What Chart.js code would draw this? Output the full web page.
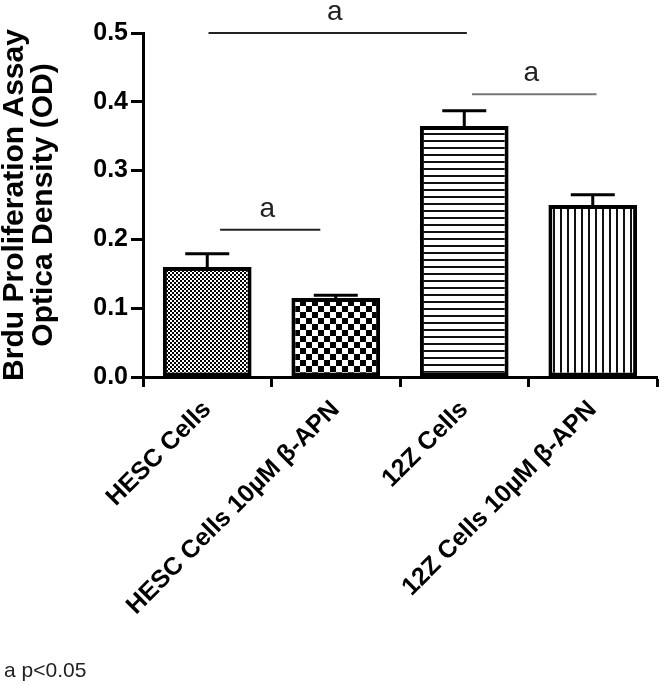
<!DOCTYPE html>
<html lang="en">
<head>
  <meta charset="UTF-8" />
  <title>Brdu Proliferation Assay</title>
  <script src="https://cdn.jsdelivr.net/npm/chart.js"></script>
  <style>
    html, body { margin: 0; padding: 0; background: #fff; }
    #wrap { position: relative; width: 660px; height: 685px; }
    #note {
      position: absolute; left: 4px; top: 658px;
      font: 21px "Liberation Sans", Arial, sans-serif; color: #222;
    }
  </style>
</head>
<body>
  <div id="wrap">
    <canvas id="brduChart" width="660" height="685"></canvas>
    <div id="note">a p&lt;0.05</div>
  </div>

  <script>
    // data
    const categories = ['HESC Cells', 'HESC Cells 10\u00b5M \u03b2-APN', '12Z Cells', '12Z Cells 10\u00b5M \u03b2-APN'];
    const meanOD = [0.160, 0.115, 0.365, 0.250];
    const errOD = [0.019, 0.004, 0.022, 0.015];
    const yTicks = [0, 0.1, 0.2, 0.3, 0.4, 0.5];
    // significance brackets: from / to category position, level, label
    const sigFrom = [0.01, 0.10, 2.06];
    const sigTo = [2.02, 0.88, 3.03];
    const sigLevel = [0.5, 0.214, 0.411];
    const sigLabel = ['a', 'a', 'a'];
    const sigColor = ['#222', '#222', '#777'];

    const FONT = '"Liberation Sans", Arial, sans-serif';

    function makePattern(kind) {
      const c = document.createElement('canvas');
      const g = c.getContext('2d');
      if (kind === 'fine') {
        c.width = c.height = 4;
        g.fillStyle = '#fff'; g.fillRect(0, 0, 4, 4);
        g.fillStyle = '#000';
        g.fillRect(0, 0, 2, 2); g.fillRect(2, 2, 2, 2);
      } else if (kind === 'checker') {
        c.width = c.height = 12;
        g.fillStyle = '#fff'; g.fillRect(0, 0, 12, 12);
        g.fillStyle = '#000';
        g.fillRect(0, 0, 6, 6); g.fillRect(6, 6, 6, 6);
      } else if (kind === 'hlines') {
        c.width = c.height = 7;
        g.fillStyle = '#fff'; g.fillRect(0, 0, 7, 7);
        g.fillStyle = '#111'; g.fillRect(0, 0, 7, 2);
      } else {
        c.width = c.height = 7;
        g.fillStyle = '#fff'; g.fillRect(0, 0, 7, 7);
        g.fillStyle = '#111'; g.fillRect(0, 0, 2, 7);
      }
      return g.createPattern(c, 'repeat');
    }

    const extras = {
      id: 'extras',
      afterDatasetsDraw(chart) {
        const ctx = chart.ctx;
        const x = chart.scales.x, y = chart.scales.y;
        const meta = chart.getDatasetMeta(0);
        ctx.save();
        // error bars, upper half only
        ctx.strokeStyle = '#000';
        ctx.lineWidth = 3;
        meta.data.forEach((bar, i) => {
          const cx = bar.x;
          const y0 = y.getPixelForValue(meanOD[i]);
          const y1 = y.getPixelForValue(meanOD[i] + errOD[i]);
          ctx.beginPath();
          ctx.moveTo(cx, y0); ctx.lineTo(cx, y1);
          ctx.moveTo(cx - 22, y1); ctx.lineTo(cx + 22, y1);
          ctx.stroke();
        });
        // significance lines
        ctx.lineWidth = 2;
        ctx.textAlign = 'center';
        ctx.textBaseline = 'alphabetic';
        ctx.font = '28px ' + FONT;
        sigLevel.forEach((lv, i) => {
          const x0 = x.getPixelForValue(sigFrom[i]);
          const x1 = x.getPixelForValue(sigTo[i]);
          const py = y.getPixelForValue(lv);
          ctx.strokeStyle = sigColor[i];
          ctx.beginPath();
          ctx.moveTo(x0, py); ctx.lineTo(x1, py);
          ctx.stroke();
          ctx.fillStyle = '#222';
          ctx.fillText(sigLabel[i], (x0 + x1) / 2 - 3, py - 13);
        });
        ctx.restore();
      }
    };

    const ctx = document.getElementById('brduChart').getContext('2d');
    new Chart(ctx, {
      type: 'bar',
      data: {
        labels: categories,
        datasets: [{
          data: meanOD,
          backgroundColor: [makePattern('fine'), makePattern('checker'), makePattern('hlines'), makePattern('vlines')],
          borderColor: '#000',
          borderWidth: 4,
          borderSkipped: false,
          categoryPercentage: 1,
          barPercentage: 0.69
        }]
      },
      options: {
        responsive: false,
        animation: false,
        layout: { padding: { top: 33, right: 3, left: 0, bottom: 0 } },
        plugins: { legend: { display: false }, tooltip: { enabled: false } },
        scales: {
          x: {
            grid: { drawOnChartArea: false, drawTicks: true, tickLength: 10, tickWidth: 3, tickColor: '#000' },
            border: { display: true, color: '#000', width: 3 },
            ticks: {
              color: '#000', maxRotation: 45, minRotation: 45, padding: 8,
              font: { family: FONT, size: 25, weight: 'bold' }
            },
            afterFit(s) { s.height = 308; }
          },
          y: {
            min: 0, max: 0.5,
            afterBuildTicks(s) { s.ticks = yTicks.map(v => ({ value: v })); },
            grid: { drawOnChartArea: false, drawTicks: true, tickLength: 12, tickWidth: 3, tickColor: '#000' },
            border: { display: true, color: '#000', width: 3 },
            ticks: {
              color: '#000', padding: 3,
              font: { family: FONT, size: 25, weight: 'bold' },
              callback: v => v.toFixed(1)
            },
            title: {
              display: true,
              text: ['Brdu Proliferation Assay', 'Optica Density (OD)'],
              color: '#000',
              font: { family: FONT, size: 30, weight: 'bold', lineHeight: 0.97 },
              padding: { top: 0, bottom: 0 }
            },
            afterFit(s) { s.width = 143; }
          }
        }
      },
      plugins: [extras]
    });
  </script>
</body>
</html>
